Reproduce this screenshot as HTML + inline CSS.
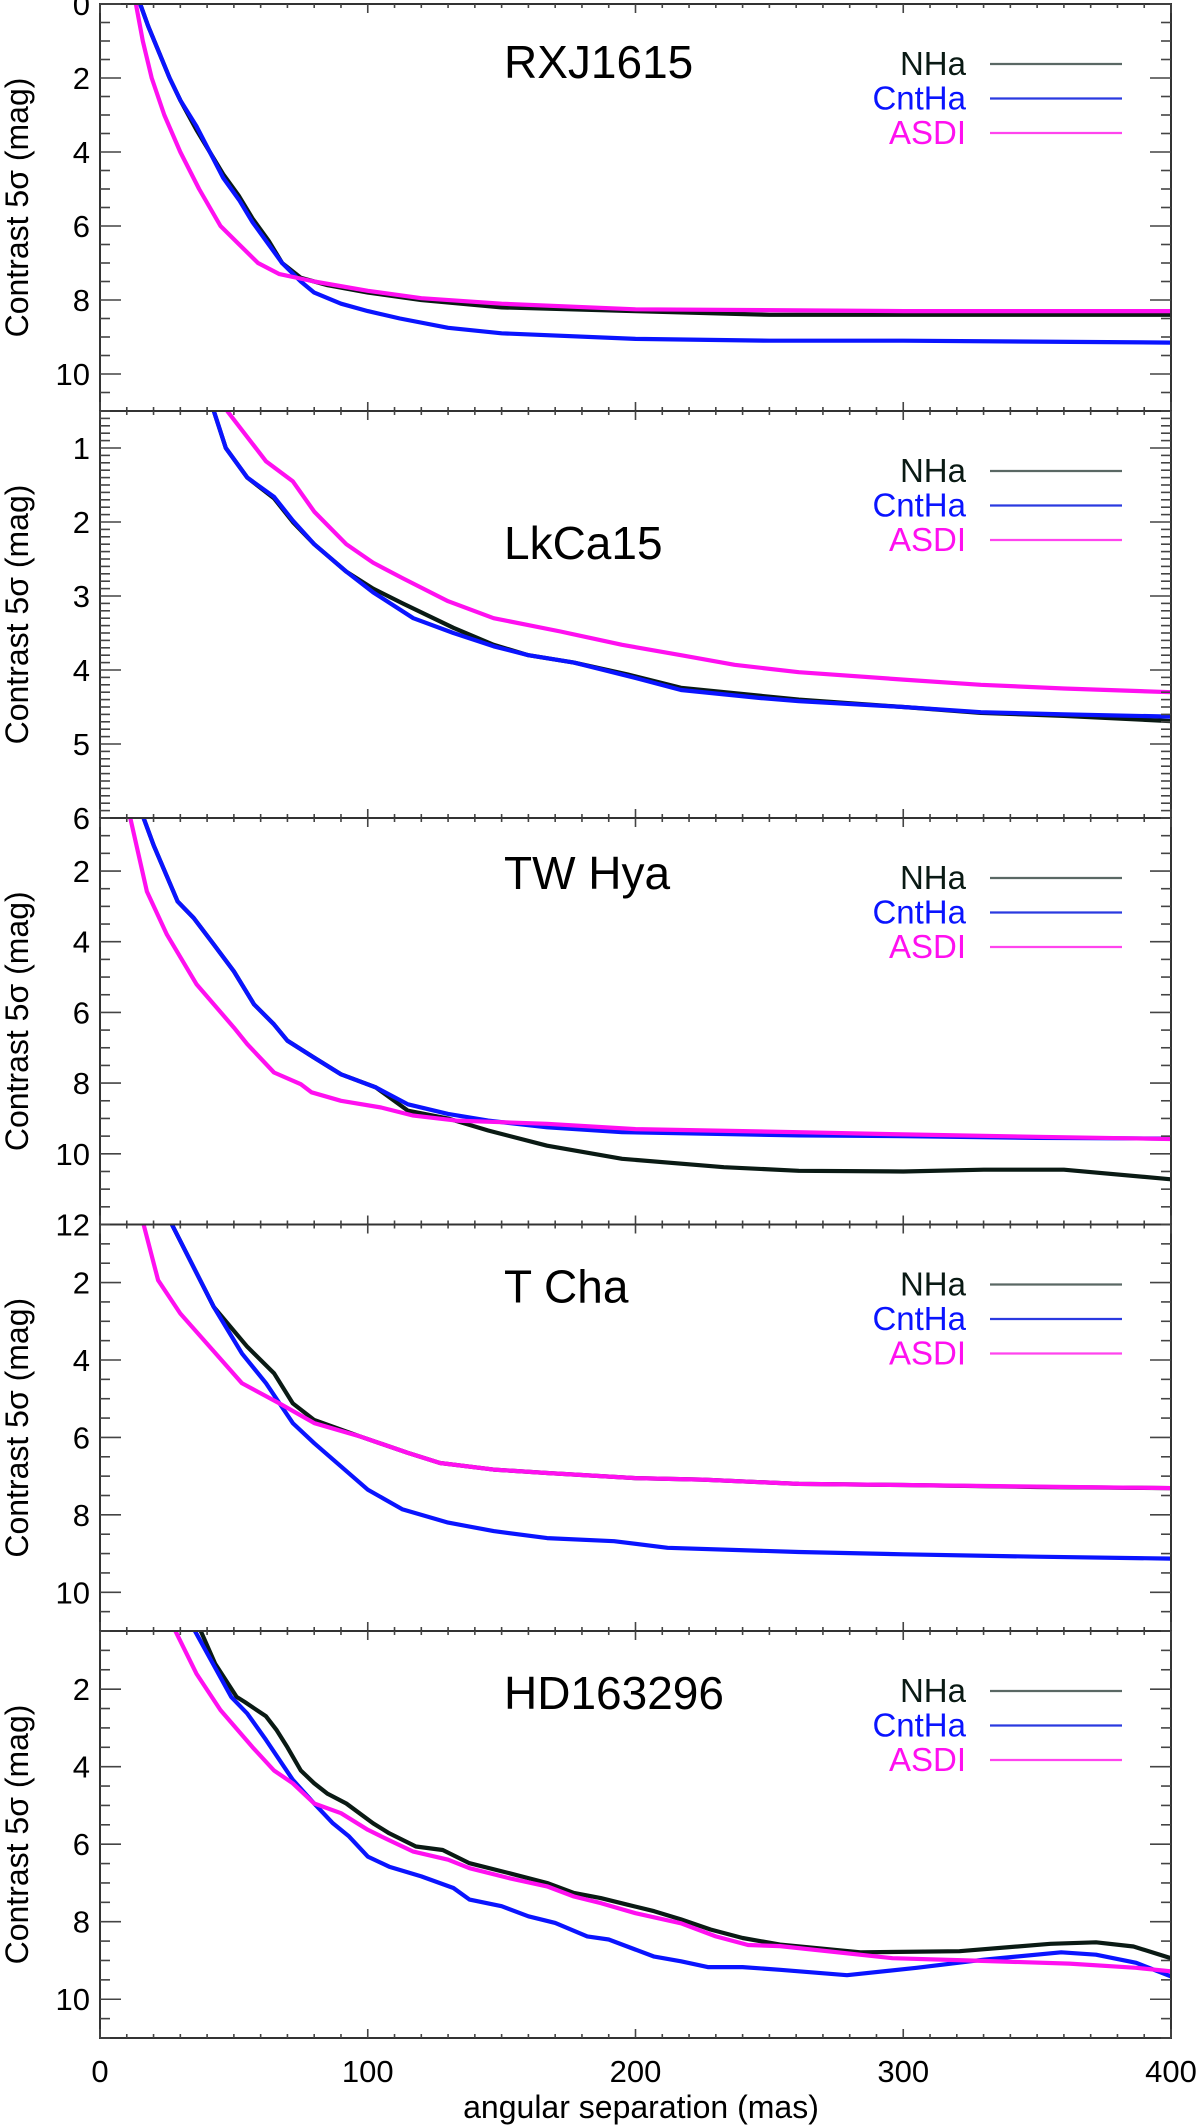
<!DOCTYPE html>
<html><head><meta charset="utf-8"><style>
html,body{margin:0;padding:0;background:#fff;}
svg{display:block;}
text{font-family:"Liberation Sans",Arial,sans-serif;}
</style></head><body>
<svg id="chart" width="1200" height="2127" viewBox="0 0 1200 2127" xmlns="http://www.w3.org/2000/svg"></svg>
<script>
// x-axis
const xTicksMajor = [0,100,200,300,400];
// panel names
const panelNames = ["RXJ1615","LkCa15","TW Hya","T Cha","HD163296"];
const seriesNames = ["NHa","CntHa","ASDI"];
// y tick labels per panel
const p1Ticks = [0,2,4,6,8,10];
const p2Ticks = [1,2,3,4,5,6];
const p3Ticks = [2,4,6,8,10,12];
const p4Ticks = [2,4,6,8,10];
const p5Ticks = [2,4,6,8,10];

// Panel 1 RXJ1615
const p1NhaX = [15,18,22,26,30,36,41,46,52,57,63,68,75,85,100,120,150,200,250,300,350,400];
const p1NhaY = [0,0.6,1.3,2,2.6,3.4,4,4.6,5.2,5.8,6.4,7,7.4,7.6,7.8,8.0,8.2,8.3,8.4,8.4,8.4,8.4];
const p1CntX = [15,18,22,26,30,36,41,46,52,57,63,68,75,80,90,100,112,130,150,200,250,300,400];
const p1CntY = [0,0.6,1.3,2,2.6,3.3,4,4.7,5.3,5.9,6.5,7.0,7.5,7.8,8.1,8.3,8.5,8.75,8.9,9.05,9.1,9.1,9.15];
const p1AsdiX = [13.4,16,19.3,24,30,37,45,52,59,67,80,100,120,150,200,300,400];
const p1AsdiY = [0,1,2,3,4,5,6,6.5,7,7.3,7.5,7.75,7.95,8.1,8.25,8.3,8.3];

// Panel 2 LkCa15
const p2NhaX = [42.5,47,55,65,72,80,92,102,113,132,147,160,177,197,217,247,261,300,329,360,400];
const p2NhaY = [0.5,1.0,1.4,1.68,2.0,2.3,2.67,2.9,3.1,3.43,3.66,3.8,3.9,4.06,4.24,4.35,4.4,4.5,4.58,4.62,4.69];
const p2CntX = [42.5,47,55,65,72,80,92,102,117,132,147,160,177,197,217,247,261,300,329,360,400];
const p2CntY = [0.5,1.0,1.4,1.66,1.98,2.3,2.67,2.95,3.3,3.5,3.68,3.8,3.9,4.08,4.27,4.38,4.42,4.5,4.57,4.6,4.63];
const p2AsdiX = [47.5,62,72,80,92,102,113,130,147,172,195,217,237,261,300,329,360,400];
const p2AsdiY = [0.5,1.18,1.45,1.86,2.3,2.55,2.76,3.07,3.3,3.48,3.66,3.8,3.93,4.03,4.13,4.2,4.25,4.3];

// Panel 3 TW Hya
const p3NhaX = [16.3,20,29,35,42.5,50,57.5,65,70,80,90,103,115,130,145,167,195,233,261,300,330,360,400];
const p3NhaY = [0.5,1.27,2.86,3.33,4.08,4.84,5.77,6.34,6.8,7.28,7.75,8.12,8.78,9.0,9.34,9.77,10.14,10.38,10.48,10.5,10.45,10.45,10.72];
const p3CntX = [16.3,20,29,35,42.5,50,57.5,65,70,80,90,103,115,130,145,167,195,233,261,300,350,400];
const p3CntY = [0.5,1.27,2.86,3.33,4.08,4.84,5.77,6.34,6.8,7.28,7.75,8.12,8.6,8.87,9.06,9.25,9.39,9.44,9.48,9.5,9.55,9.57];
const p3AsdiX = [11.3,17.5,25,36,50,55,65,75,79,90,105,117,133,167,200,261,300,350,400];
const p3AsdiY = [0.5,2.58,3.8,5.2,6.43,6.9,7.7,8.03,8.26,8.5,8.69,8.92,9.06,9.15,9.3,9.39,9.45,9.52,9.58];

// Panel 4 T Cha
const p4NhaX = [26.7,42.5,55,65,72,80,97,115,127,147,167,200,225,261,300,350,400];
const p4NhaY = [0.48,2.63,3.66,4.34,5.12,5.55,5.97,6.4,6.66,6.83,6.92,7.05,7.09,7.2,7.23,7.28,7.31];
const p4CntX = [26.7,42.5,53,62,72,80,100,113,130,147,167,192,212,261,300,350,400];
const p4CntY = [0.48,2.63,3.83,4.6,5.63,6.15,7.35,7.86,8.2,8.42,8.6,8.68,8.85,8.96,9.02,9.08,9.13];
const p4AsdiX = [16.2,21.7,30,42,53,67,80,97,115,127,147,167,200,225,261,300,350,400];
const p4AsdiY = [0.48,1.94,2.8,3.74,4.6,5.12,5.63,5.97,6.4,6.66,6.83,6.92,7.05,7.09,7.2,7.23,7.27,7.31];

// Panel 5 HD163296
const p5NhaX = [37.5,43,51,54,62,66,70,75,80,85,92,102,108,118,128,138,153,167,177,187,197,207,217,228,240,254,284,321,355,372,386,400];
const p5NhaY = [0.48,1.34,2.2,2.33,2.7,3.06,3.5,4.1,4.43,4.7,4.95,5.46,5.72,6.06,6.15,6.49,6.75,7.0,7.26,7.39,7.56,7.73,7.94,8.2,8.42,8.59,8.79,8.76,8.57,8.53,8.64,8.94];
const p5CntX = [35.3,49,55,62,72,80,87,93,100,108,120,132,138,150,160,170,182,190,200,207,217,227,240,254,279,305,330,359,372,387,400];
const p5CntY = [0.48,2.2,2.63,3.31,4.34,4.95,5.46,5.8,6.32,6.58,6.83,7.13,7.43,7.6,7.86,8.03,8.38,8.46,8.72,8.9,9.02,9.17,9.17,9.24,9.38,9.19,8.98,8.79,8.85,9.06,9.41];
const p5AsdiX = [28,36,45,57,65,72,80,90,100,108,117,130,138,153,167,177,187,200,217,230,242,254,296,325,362,387,400];
const p5AsdiY = [0.48,1.6,2.54,3.5,4.1,4.43,4.95,5.2,5.63,5.9,6.19,6.4,6.62,6.88,7.09,7.35,7.52,7.78,8.04,8.38,8.6,8.63,8.94,9.0,9.08,9.19,9.28];

const NS = "http://www.w3.org/2000/svg";
const svg = document.getElementById("chart");
const X0 = 100, X1 = 1171;
function xs(v){ return X0 + (v/400)*(X1-X0); }
function mk(tag, attrs, parent){
  const e = document.createElementNS(NS, tag);
  for (const k in attrs) e.setAttribute(k, attrs[k]);
  (parent||svg).appendChild(e);
  return e;
}
const panels = [
  {top:4, bot:411, ymin:0, ymax:11, ticks:p1Ticks, minor:0.5, data:[[p1NhaX,p1NhaY],[p1CntX,p1CntY],[p1AsdiX,p1AsdiY]], titleDy:74},
  {top:411, bot:818, ymin:0.5, ymax:6, ticks:p2Ticks, minor:0.1, data:[[p2NhaX,p2NhaY],[p2CntX,p2CntY],[p2AsdiX,p2AsdiY]], titleDy:148},
  {top:818, bot:1224.5, ymin:0.5, ymax:12, ticks:p3Ticks, minor:0.5, data:[[p3NhaX,p3NhaY],[p3CntX,p3CntY],[p3AsdiX,p3AsdiY]], titleDy:71},
  {top:1224.5, bot:1631, ymin:0.5, ymax:11, ticks:p4Ticks, minor:0.5, data:[[p4NhaX,p4NhaY],[p4CntX,p4CntY],[p4AsdiX,p4AsdiY]], titleDy:78},
  {top:1631, bot:2038, ymin:0.5, ymax:11, ticks:p5Ticks, minor:0.5, data:[[p5NhaX,p5NhaY],[p5CntX,p5CntY],[p5AsdiX,p5AsdiY]], titleDy:78}
];
const curveColors = ["#0a1a14","#0a14ff","#ff10f0"];
const legendColors = ["#5a6864","#2a3ae0","#ff44ee"];
const textColors = ["#0a1a14","#0a14ff","#ff10f0"];
const seriesKeys = ["nha","cntha","asdi"];

panels.forEach((p, i) => {
  const ys = v => p.top + (v - p.ymin)/(p.ymax - p.ymin)*(p.bot - p.top);
  const g = mk("g", {});
  
  
  const cid = "clip" + i;
  const cp = mk("clipPath", {id:cid}, g);
  mk("rect", {x:X0, y:p.top, width:X1-X0, height:p.bot-p.top}, cp);
  // curves
  p.data.forEach((d, s) => {
    let pts = d[0].map((x, k) => xs(x).toFixed(1) + "," + ys(d[1][k]).toFixed(1)).join(" ");
    const pl = mk("polyline", {points:pts, fill:"none", stroke:curveColors[s], "stroke-width":4.2, "stroke-linejoin":"round", "clip-path":"url(#"+cid+")"}, g);
    
    
  });
  // frame
  const fr = mk("rect", {x:X0, y:p.top, width:X1-X0, height:p.bot-p.top, fill:"none", stroke:"#333", "stroke-width":2}, g);
  
  
  // y ticks
  const n = Math.round((p.ymax - p.ymin)/p.minor);
  for (let k = 0; k <= n; k++) {
    const v = p.ymin + k*p.minor;
    const isMaj = p.ticks.some(t => Math.abs(t - v) < 1e-6);
    const L = isMaj ? 21 : 10;
    const y = ys(v);
    mk("line", {x1:X0, x2:X0+L, y1:y, y2:y, stroke:"#444", "stroke-width":1.6}, g);
    mk("line", {x1:X1, x2:X1-L, y1:y, y2:y, stroke:"#444", "stroke-width":1.6}, g);
  }
  p.ticks.forEach(t => {
    const tx = mk("text", {x:90, y:ys(t)+11, "font-size":31, "text-anchor":"end", fill:"#000"}, g);
    
    
    tx.textContent = t;
  });
  // x ticks
  for (let v = 0; v <= 400; v += 10) {
    const L = (v % 100 === 0) ? 9 : 4;
    mk("line", {x1:xs(v), x2:xs(v), y1:p.bot, y2:p.bot-L, stroke:"#444", "stroke-width":1.6}, g);
    mk("line", {x1:xs(v), x2:xs(v), y1:p.top, y2:p.top+L, stroke:"#444", "stroke-width":1.6}, g);
  }
  // y-axis title
  const cy = (p.top + p.bot)/2;
  const yt = mk("text", {x:0, y:0, "font-size":32, "text-anchor":"middle", fill:"#000", transform:"translate(28,"+cy+") rotate(-90)"}, g);
  
  
  yt.textContent = "Contrast 5σ (mag)";
  // panel title
  const tt = mk("text", {x:504, y:p.top + p.titleDy, "font-size":46, fill:"#000"}, g);
  
  
  tt.textContent = panelNames[i];
  // legend
  seriesNames.forEach((nm, s) => {
    const ly = p.top + 60 + s*34.5;
    const lg = mk("g", {}, g);
    
    
    const lt = mk("text", {x:966, y:ly+11, "font-size":33, "text-anchor":"end", fill:textColors[s]}, lg);
    lt.textContent = nm;
    mk("line", {x1:990, x2:1122, y1:ly, y2:ly, stroke:legendColors[s], "stroke-width":2.2}, lg);
  });
});
// x tick labels
xTicksMajor.forEach(v => {
  const t = mk("text", {x:xs(v), y:2082, "font-size":31, "text-anchor":"middle", fill:"#000"});
  
  
  t.textContent = v;
});
const xt = mk("text", {x:641, y:2118, "font-size":32, "text-anchor":"middle", fill:"#000"});


xt.textContent = "angular separation (mas)";
</script>
</body></html>
